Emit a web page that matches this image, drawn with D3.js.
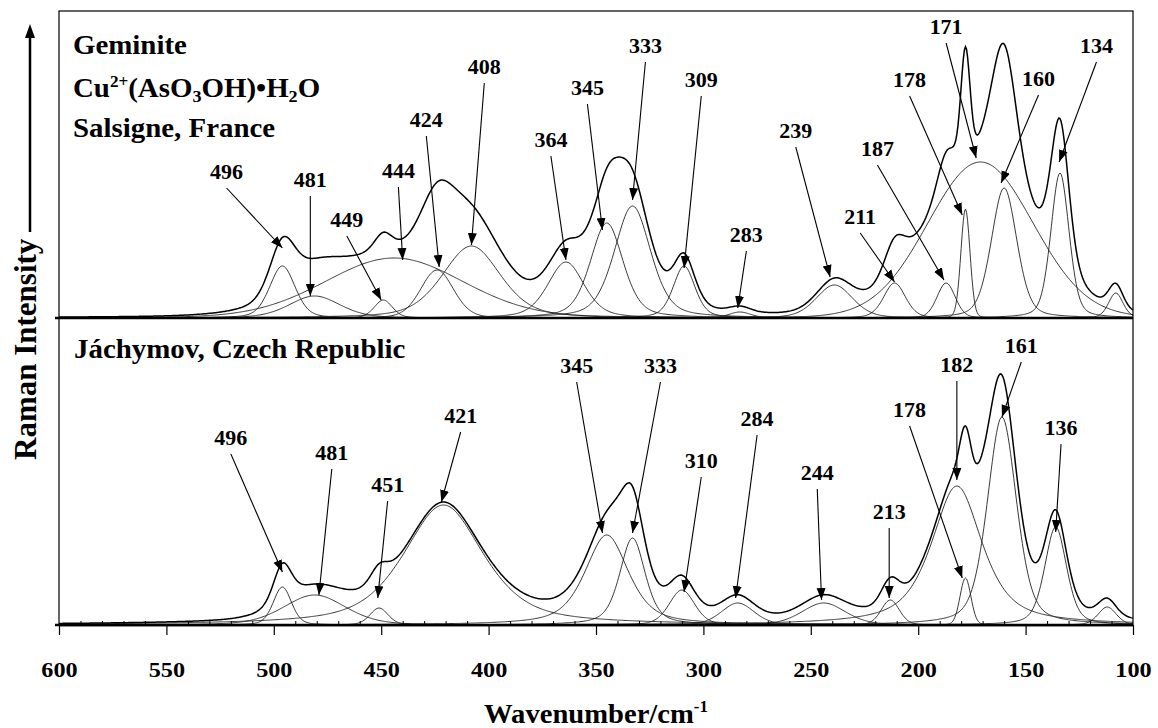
<!DOCTYPE html>
<html>
<head>
<meta charset="utf-8">
<script src="https://cdn.jsdelivr.net/npm/d3@7"></script>
<style>
  body { margin: 0; background: #fff; }
</style>
</head>
<body>
<div id="vis"></div>
<script>
// x axis ticks (cm-1)
const wavenumberTicks = [600, 550, 500, 450, 400, 350, 300, 250, 200, 150, 100];

// Salsigne, France - fitted bands: centre, height, half width, lorentzian fraction
const salsigneCentres = [496, 481, 449, 444, 424, 408, 364, 345, 333, 309, 283, 239, 211, 187, 178, 171, 160, 134, 108];
const salsigneHeights = [52, 22, 18, 60, 48, 72, 56, 95, 112, 52, 6, 33, 35, 35, 109, 156, 130, 145, 25];
const salsigneWidths  = [7, 14, 5, 38, 9, 16, 10, 9, 10, 6, 6, 10, 6, 5, 2.5, 29, 7, 5, 4];
const salsigneLorentz = [0.3, 0.3, 0.3, 0.1, 0.2, 0.4, 0.4, 0.4, 0.4, 0.4, 0.3, 0.3, 0.3, 0.2, 0.1, 0.05, 0.3, 0.3, 0.3];

// Jachymov, Czech Republic - fitted bands
const jachymovCentres = [496, 481, 451, 421, 345, 333, 310, 284, 244, 213, 182, 178, 161, 136, 112];
const jachymovHeights = [38, 30, 17, 120, 90, 87, 35, 22, 22, 25, 139, 47, 208, 98, 18];
const jachymovWidths  = [5, 17, 5, 22, 12, 7, 7, 9, 12, 5, 14, 3, 8, 6, 5];
const jachymovLorentz = [0.3, 0.3, 0.3, 0.6, 0.6, 0.5, 0.3, 0.3, 0.3, 0.2, 0.7, 0.1, 0.4, 0.4, 0.3];

// band labels: text, label anchor [wavenumber, intensity], arrow tip [wavenumber, intensity]
const salsigneLabels = ["496", "481", "449", "444", "424", "408", "364", "345", "333", "309", "283", "239", "211", "187", "178", "171", "160", "134"];
const salsigneLabelAt = [[522, 139], [483, 131], [466, 91], [442, 140], [429, 191], [402, 244], [371, 171], [354, 223], [327, 265], [301, 231], [280, 76], [257, 180], [227, 94], [219, 162], [204, 231], [187, 284], [144, 232], [117, 265]];
const salsigneTipAt = [[496, 70], [483, 22], [450, 18], [440, 58], [423, 51], [408, 73], [364, 58], [347, 88], [333, 118], [309, 50], [284, 10], [241, 41], [211, 36], [188, 38], [179.5, 103], [173, 160], [161.4, 135], [134.4, 156]];

const jachymovLabels = ["496", "481", "451", "421", "345", "333", "310", "284", "244", "213", "178", "182", "161", "136"];
const jachymovLabelAt = [[520, 180], [473, 165], [447, 133], [413, 202], [359, 252], [320, 252], [301, 157], [275, 199], [247, 145], [213.5, 106], [204, 208], [182, 253], [152, 272], [133.5, 190]];
const jachymovTipAt = [[496, 53], [479, 30], [451.6, 27], [422, 123], [347, 92], [333, 92], [309, 33], [285, 27], [245, 25], [213.5, 27], [179.5, 47], [182, 145], [161, 208], [136, 93]];

const width = 1158;
const height = 728;
const plotLeft = 59, plotRight = 1133;
const plotTop = 11, plotMiddle = 318, plotBottom = 625;
const stretch = 1.1; // the original lettering is a little wider than Liberation Serif
const serif = '"Liberation Serif", "Times New Roman", serif';

const svg = d3.select('#vis').append('svg')
  .attr('width', width)
  .attr('height', height)
  .style('font-family', serif)
  .style('font-weight', 'bold');

const x = d3.scaleLinear().domain([600, 100]).range([plotLeft, plotRight]);
const yTop = d3.scaleLinear().domain([0, 307]).range([plotMiddle, plotTop]);
const yBot = d3.scaleLinear().domain([0, 307]).range([plotBottom, plotMiddle]);

// pseudo-voigt band shape
function band(w, c, h, hw, eta) {
  const u = (w - c) / hw;
  return h * (eta / (1 + u * u) + (1 - eta) * Math.exp(-Math.LN2 * u * u));
}

const grid = d3.range(100, 600.01, 0.5);

svg.append('defs').append('marker')
  .attr('id', 'head')
  .attr('viewBox', '0 -5 12 10')
  .attr('refX', 12).attr('refY', 0)
  .attr('markerUnits', 'userSpaceOnUse')
  .attr('markerWidth', 12).attr('markerHeight', 10)
  .attr('orient', 'auto')
  .append('path').attr('d', 'M0,-4.5L12,0L0,4.5Z').attr('fill', '#000');

function addText(sel) {
  return sel.append('text')
    .style('font-family', serif)
    .style('font-weight', 'bold')
    .attr('fill', '#000');
}

function drawPanel(y, centres, heights, widths, lorentz, labels, labelAt, tipAt) {
  const g = svg.append('g');
  const line = d3.line().x(d => x(d[0])).y(d => y(d[1]));

  const components = centres.map((c, i) =>
    grid.map(w => [w, band(w, c, heights[i], widths[i], lorentz[i])]));
  const total = grid.map((w, k) => [w, d3.sum(components, comp => comp[k][1])]);

  g.selectAll('.band')
    .data(components)
    .enter().append('path')
    .attr('class', 'band')
    .attr('d', line)
    .attr('fill', 'none')
    .attr('stroke', '#222')
    .attr('stroke-width', 0.9);

  g.append('path')
    .attr('d', line(total))
    .attr('fill', 'none')
    .attr('stroke', '#000')
    .attr('stroke-width', 1.5);

  // baseline
  g.append('line')
    .attr('x1', plotLeft - 4).attr('x2', plotRight)
    .attr('y1', y(0)).attr('y2', y(0))
    .attr('stroke', '#000').attr('stroke-width', 2.5);

  labels.forEach((lab, i) => {
    const lx = x(labelAt[i][0]), ly = y(labelAt[i][1]);
    const tx = x(tipAt[i][0]), ty = y(tipAt[i][1]);
    g.append('line')
      .attr('x1', lx).attr('y1', ly + 9)
      .attr('x2', tx).attr('y2', ty)
      .attr('stroke', '#000').attr('stroke-width', 1.1)
      .attr('marker-end', 'url(#head)');
    addText(g)
      .attr('transform', `translate(${lx},${ly}) scale(${stretch},1)`)
      .attr('text-anchor', 'middle')
      .style('font-size', '20px')
      .text(lab);
  });
}

drawPanel(yTop, salsigneCentres, salsigneHeights, salsigneWidths, salsigneLorentz,
  salsigneLabels, salsigneLabelAt, salsigneTipAt);
drawPanel(yBot, jachymovCentres, jachymovHeights, jachymovWidths, jachymovLorentz,
  jachymovLabels, jachymovLabelAt, jachymovTipAt);

// frame
svg.append('rect')
  .attr('x', plotLeft).attr('y', plotTop)
  .attr('width', plotRight - plotLeft).attr('height', plotBottom - plotTop)
  .attr('fill', 'none').attr('stroke', '#000').attr('stroke-width', 1.2);

// x axis, major ticks outward and minor ticks inward
const xAxis = d3.axisBottom(x)
  .tickValues(wavenumberTicks)
  .tickSize(10).tickSizeOuter(0).tickPadding(26)
  .tickFormat(d3.format('d'));
const axisG = svg.append('g').attr('transform', `translate(0,${plotBottom})`).call(xAxis);
axisG.attr('font-family', null).attr('font-size', null);
axisG.select('.domain').attr('stroke-width', 1.5);
axisG.selectAll('.tick line').attr('stroke-width', 1.2);
axisG.selectAll('.tick text')
  .style('font-family', serif)
  .style('font-weight', 'bold')
  .style('font-size', '22px')
  .attr('transform', `scale(${stretch},1)`);

const minorAxis = d3.axisBottom(x)
  .tickValues(d3.range(110, 600, 10).filter(v => v % 50 !== 0))
  .tickSize(-4).tickSizeOuter(0).tickFormat('');
svg.append('g').attr('transform', `translate(0,${plotBottom})`).call(minorAxis)
  .call(g => g.select('.domain').remove());

// titles inside panels
const heading = (tx, ty) => addText(svg)
  .attr('transform', `translate(${tx},${ty}) scale(1.07,1)`)
  .style('font-size', '27px');

heading(73, 54).text('Geminite');
const formula = heading(73, 97);
formula.append('tspan').text('Cu');
formula.append('tspan').attr('dy', -10).style('font-size', '16px').text('2+');
formula.append('tspan').attr('dy', 10).text('(AsO');
formula.append('tspan').attr('dy', 5).style('font-size', '17px').text('3');
formula.append('tspan').attr('dy', -5).text('OH)•H');
formula.append('tspan').attr('dy', 5).style('font-size', '17px').text('2');
formula.append('tspan').attr('dy', -5).text('O');
heading(73, 137).text('Salsigne, France');
heading(74, 358).text('Jáchymov, Czech Republic');

// axis titles
const xTitle = addText(svg)
  .attr('transform', `translate(${(plotLeft + plotRight) / 2},723) scale(1.06,1)`)
  .attr('text-anchor', 'middle')
  .style('font-size', '27px');
xTitle.append('tspan').text('Wavenumber/cm');
xTitle.append('tspan').attr('dy', -11).style('font-size', '16px').text('-1');

addText(svg)
  .attr('transform', 'translate(36,460) rotate(-90)')
  .style('font-size', '31px')
  .text('Raman Intensity');

svg.append('line')
  .attr('x1', 30).attr('x2', 30)
  .attr('y1', 232).attr('y2', 36)
  .attr('stroke', '#000').attr('stroke-width', 2.5);
svg.append('path')
  .attr('d', 'M30,24L25,38L35,38Z')
  .attr('fill', '#000');
</script>
</body>
</html>
